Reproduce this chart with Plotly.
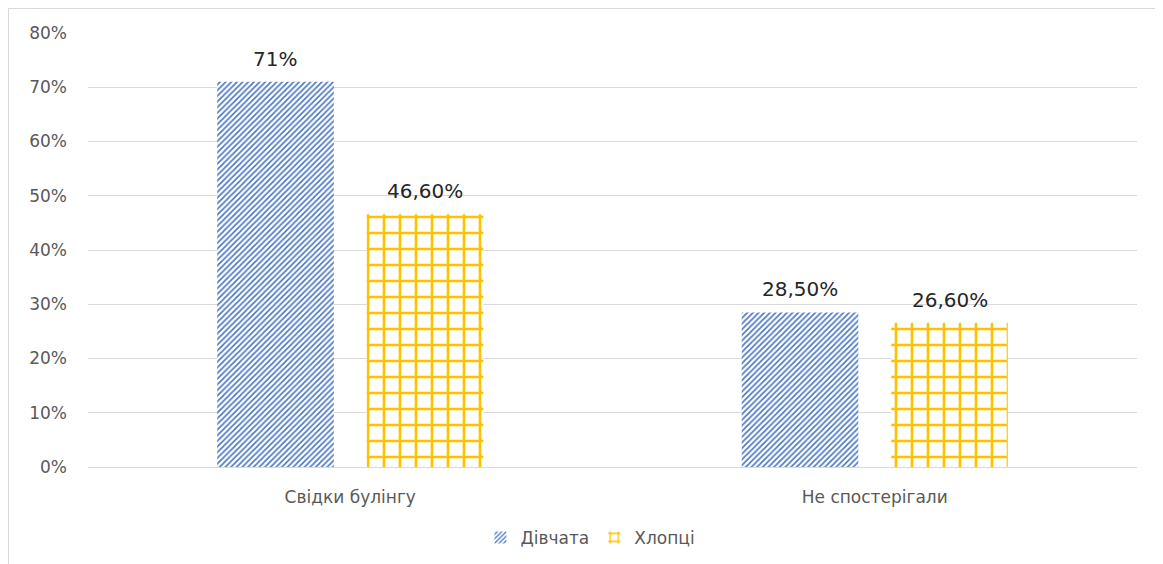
import plotly.graph_objects as go

categories = ["Свідки булінгу", "Не спостерігали"]
girls = [0.71, 0.285]
boys = [0.466, 0.266]
girls_labels = ["71%", "28,50%"]
boys_labels = ["46,60%", "26,60%"]
y_ticks = [0, 0.1, 0.2, 0.3, 0.4, 0.5, 0.6, 0.7, 0.8]
y_tick_text = ["0%", "10%", "20%", "30%", "40%", "50%", "60%", "70%", "80%"]

fig = go.Figure()
fig.add_trace(go.Bar(
    x=categories, y=girls, name="Дівчата",
    marker=dict(color="white", line=dict(width=0),
                pattern=dict(shape="/", fgcolor="#4472C4", bgcolor="white",
                             fgopacity=1, size=4, solidity=0.38)),
))
fig.add_trace(go.Bar(
    x=categories, y=boys, name="Хлопці",
    marker=dict(color="white", line=dict(width=0),
                pattern=dict(shape="+", fgcolor="#FFC000", bgcolor="white",
                             fgopacity=1, size=16, solidity=0.3)),
))

# data labels above the bars
for vals, labels, shift in [(girls, girls_labels, -75), (boys, boys_labels, 75)]:
    for cat, v, lab in zip(categories, vals, labels):
        fig.add_annotation(x=cat, y=v, text=lab, showarrow=False, xshift=shift,
                           yanchor="bottom", yshift=9,
                           font=dict(size=20, color="#262626"))

fig.update_layout(
    width=1155, height=556,
    margin=dict(l=80, r=26, t=25, b=97),
    paper_bgcolor="white", plot_bgcolor="white",
    font=dict(family="DejaVu Sans, sans-serif", size=17, color="#595959"),
    barmode="group", bargap=0.43, bargroupgap=0.22,
    legend=dict(orientation="h", x=0.479, xanchor="center",
                yref="container", y=0.047, yanchor="middle",
                font=dict(size=17, color="#595959")),
    yaxis=dict(range=[0, 0.8], tickvals=y_ticks, ticktext=y_tick_text,
               gridcolor="#D9D9D9", zeroline=False, showline=False,
               ticklabelstandoff=20, automargin=False),
    xaxis=dict(showline=True, linecolor="#D9D9D9", ticks="", tickfont=dict(size=17),
               ticklabelstandoff=15, automargin=False),
    shapes=[dict(type="rect", xref="paper", yref="paper",
                 x0=-80 / 1049, x1=1.05, y0=-0.4, y1=1 + 25 / 434,
                 line=dict(color="#D9D9D9", width=2), fillcolor="rgba(0,0,0,0)", layer="below")],
)

fig.write_html("out.html")
